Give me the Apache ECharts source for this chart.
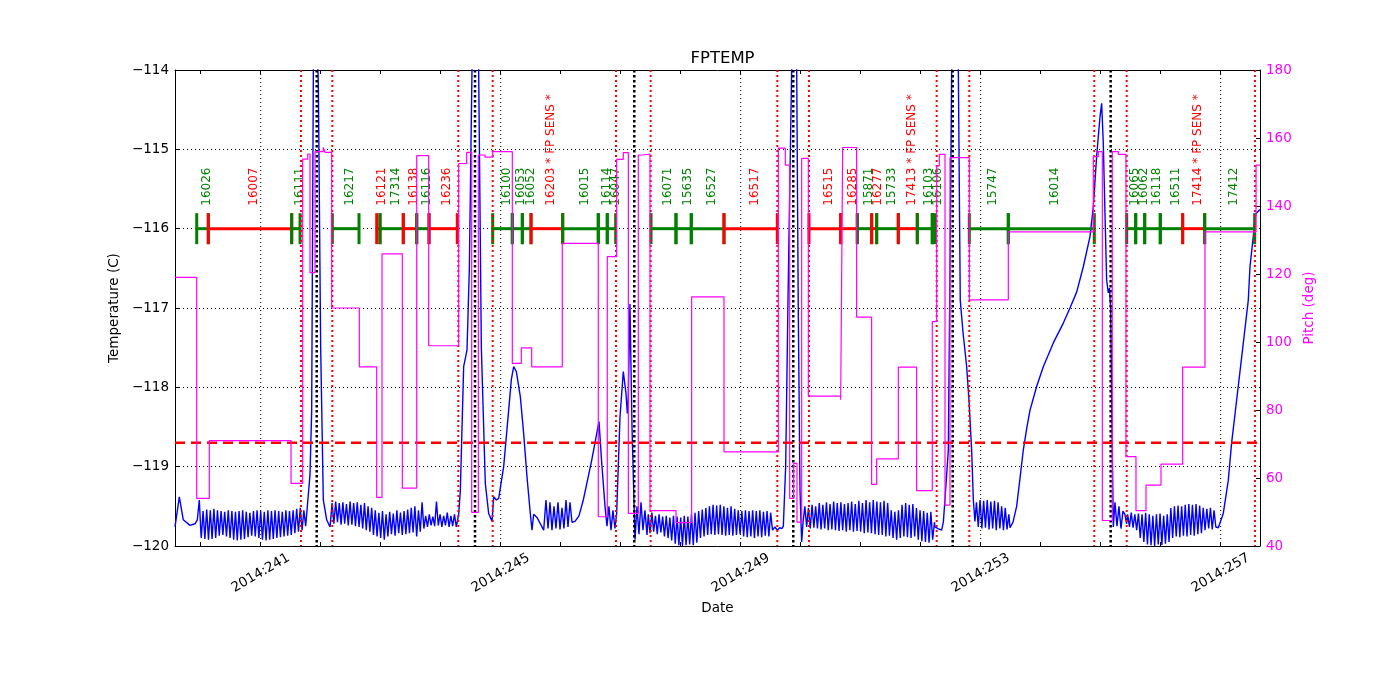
<!DOCTYPE html>
<html><head><meta charset="utf-8">
<script src="https://cdn.jsdelivr.net/npm/echarts@6.0.0/dist/echarts.min.js"></script>
<style>html,body{margin:0;padding:0;background:#fff}#c{width:1400px;height:700px}</style>
</head><body><div id="c"></div>
<script>
// ---- axis ranges (day of year 2014) ----
const X_MIN = 239.572, X_MAX = 257.656;
const TEMP_MIN = -120, TEMP_MAX = -114, PITCH_MIN = 40, PITCH_MAX = 180;
const tickDays = [240,241,242,243,244,245,246,247,248,249,250,251,252,253,254,255,256,257];
const labelDays = [241,245,249,253,257];
const limitTemp = -118.7;
const timelineTemp = -116;

// ---- event lines ----
const redEventDays = [241.672,242.194,244.294,244.867,246.922,247.5,249.611,250.139,252.267,252.811,254.894,255.434,257.572];
const blackEventDays = [241.934,244.572,247.227,249.877,252.534,255.167];

// ---- observation timeline ----
const obsLabels = ['16026','16007','16111','16217','16121','17314','16138','16116','16236','16100','16053','16052','16203 * FP SENS *','16015','16114','16047','16071','15635','16527','16517','16515','16285','15871','16277','15733','17413 * FP SENS *','16103','16106','15747','16014','16065','16062','16118','16511','17414 * FP SENS *','17412'];
const obsStarts = [239.934,240.127,241.517,242.194,242.934,242.989,243.377,243.601,243.806,244.867,245.194,245.361,245.506,246.034,246.627,246.777,247.506,247.922,248.177,248.722,250.139,250.667,250.944,251.184,251.267,251.627,251.944,252.194,252.811,253.461,255.434,255.584,255.734,255.994,256.367,256.734];
const obsEnds = [240.127,241.517,241.656,242.639,242.989,243.377,243.601,243.806,244.277,245.194,245.361,245.506,246.034,246.627,246.777,246.917,247.922,248.177,248.722,249.611,250.667,250.944,251.184,251.267,251.627,251.944,252.194,252.239,253.461,254.894,255.584,255.734,255.994,256.367,256.734,257.567];
const obsColors = ['g','r','g','g','r','g','r','g','r','g','g','g','r','g','g','g','g','g','g','r','r','r','g','r','g','r','g','g','g','g','g','g','g','g','r','g'];

// ---- pitch (deg), held from each time until the next ----
const pitchTimes = [239.572,239.934,240.144,241.506,241.700,241.784,241.822,241.906,242.044,242.072,242.183,242.644,242.934,243.022,243.361,243.601,243.800,244.300,244.433,244.517,244.628,244.739,244.867,245.194,245.344,245.517,246.027,246.627,246.777,246.933,247.044,247.128,247.294,247.367,247.489,247.922,248.183,248.722,249.628,249.744,249.817,249.883,249.939,250.017,250.128,250.667,250.700,250.933,251.183,251.267,251.628,251.933,252.194,252.267,252.311,252.406,252.489,252.811,253.461,254.878,254.961,255.028,255.194,255.294,255.422,255.589,255.756,256.006,256.367,256.739,257.590,257.656];
const pitchValues = [119,54,71,58.4,153.8,155.3,120.4,156,157.2,155.8,110,92.7,54.3,125.9,57,154.8,98.9,152.5,155.8,49.9,155,154.4,156,93.7,98.3,92.7,129,48.6,125.1,153.7,155.7,49.6,155,155.3,50.4,46.9,113.3,67.7,157,152,54,64.3,47,154,84.1,83,157.2,107.3,58.1,65.6,92.6,56.3,106,151.8,155.2,52,154.2,112.4,132.4,154.5,156,47.5,156,155.2,66.3,50.4,57.9,64.1,92.6,132.4,152,152];

// ---- FPTEMP (C) ----
const tempStart = [[239.572,-119.76],[239.644,-119.38],[239.710,-119.67],[239.822,-119.74],[239.905,-119.72],[239.944,-119.67],[239.977,-119.42],[240.005,-119.85]];
const tempBandB = [[240.01,-119.90],[240.04,-119.56],[240.07,-119.91],[240.10,-119.54],[240.13,-119.92],[240.16,-119.55],[240.19,-119.91],[240.22,-119.53],[240.25,-119.90],[240.28,-119.55],[240.31,-119.87],[240.34,-119.56],[240.37,-119.86],[240.40,-119.57],[240.43,-119.88],[240.46,-119.55],[240.49,-119.90],[240.52,-119.56],[240.55,-119.92],[240.58,-119.57],[240.61,-119.93],[240.64,-119.56],[240.67,-119.92],[240.70,-119.55],[240.73,-119.91],[240.76,-119.57],[240.79,-119.89],[240.82,-119.58],[240.85,-119.87],[240.88,-119.56],[240.91,-119.88],[240.94,-119.55],[240.97,-119.90],[241.00,-119.56],[241.03,-119.92],[241.06,-119.57],[241.09,-119.93],[241.12,-119.55],[241.15,-119.92],[241.18,-119.56],[241.21,-119.91],[241.24,-119.55],[241.27,-119.90],[241.30,-119.56],[241.33,-119.89],[241.36,-119.57],[241.39,-119.88],[241.42,-119.55],[241.45,-119.87],[241.48,-119.56],[241.51,-119.86],[241.54,-119.55],[241.57,-119.84],[241.60,-119.53],[241.63,-119.82],[241.66,-119.52],[241.69,-119.80],[241.72,-119.55],[241.75,-119.75]];
const tempPerigee1 = [[241.767,-119.6],[241.822,-119.1],[241.85,-118.3],[241.878,-114.0],[241.906,-112.5],[241.939,-113.5],[241.961,-114.2],[242.0,-117.5],[242.044,-119.42],[242.1,-119.67],[242.156,-119.76]];
const tempBandD = [[242.19,-119.46],[242.22,-119.72],[242.25,-119.44],[242.28,-119.70],[242.31,-119.46],[242.34,-119.73],[242.37,-119.45],[242.40,-119.72],[242.43,-119.47],[242.46,-119.74],[242.49,-119.44],[242.52,-119.73],[242.55,-119.46],[242.58,-119.75],[242.61,-119.45],[242.64,-119.76],[242.67,-119.48],[242.70,-119.78],[242.73,-119.46],[242.76,-119.80],[242.79,-119.50],[242.82,-119.82],[242.85,-119.52],
[242.88,-119.86],[242.91,-119.55],[242.94,-119.88],[242.97,-119.58],[243.00,-119.90],[243.03,-119.56],[243.06,-119.92],[243.09,-119.60],[243.12,-119.88],[243.15,-119.57],[243.18,-119.85],[243.21,-119.59],[243.24,-119.87],[243.27,-119.55],[243.30,-119.84],[243.33,-119.58],[243.36,-119.86],[243.39,-119.56],[243.42,-119.85],[243.45,-119.54],[243.48,-119.84],[243.51,-119.52],[243.54,-119.83],[243.57,-119.50],[243.60,-119.88],[243.63,-119.55],[243.66,-119.82],[243.69,-119.45],[243.72,-119.78],
[243.75,-119.62],[243.78,-119.76],[243.81,-119.60],[243.84,-119.74],[243.87,-119.63],[243.90,-119.75],[243.93,-119.44],[243.96,-119.74],[243.99,-119.60],[244.02,-119.76],[244.05,-119.62],[244.08,-119.74],[244.11,-119.58],[244.14,-119.76],[244.17,-119.62],[244.20,-119.75],[244.23,-119.60],[244.26,-119.76]];
const tempPerigee2 = [[244.30,-119.6],[244.328,-119.3],[244.383,-117.74],[244.439,-117.53],[244.478,-116.5],[244.522,-114.0],[244.544,-112.5],[244.594,-112.5],[244.633,-114.0],[244.678,-117.5],[244.744,-119.21],[244.80,-119.59],[244.856,-119.69],[244.883,-119.38],[244.928,-119.42],[244.967,-119.40],[245.05,-119.0],[245.133,-118.29],[245.178,-117.9],[245.217,-117.74],[245.261,-117.8],[245.328,-118.12],[245.383,-118.58],[245.439,-119.13],[245.494,-119.59],[245.522,-119.8],[245.55,-119.6],[245.605,-119.64],[245.661,-119.72],[245.717,-119.8],
[245.755,-119.42],[245.789,-119.78],[245.822,-119.45],[245.855,-119.8],[245.889,-119.5],[245.922,-119.78],[245.955,-119.45],[245.989,-119.79],[246.022,-119.52],[246.055,-119.78],[246.089,-119.42],[246.122,-119.76],[246.155,-119.45],[246.189,-119.7],[246.239,-119.69],
[246.305,-119.62],[246.377,-119.42],[246.439,-119.2],[246.517,-118.92],[246.572,-118.7],[246.639,-118.43],[246.684,-118.95],[246.739,-119.5],
[246.772,-119.75],[246.805,-119.5],[246.839,-119.8],[246.872,-119.55],[246.905,-119.78],[246.933,-119.59],
[246.989,-118.37],[247.044,-117.8],[247.089,-118.08],[247.111,-118.33],[247.128,-118.1],[247.155,-116.95],[247.189,-118.5],[247.239,-119.92],
[247.272,-119.5],[247.305,-119.85],[247.339,-119.45],[247.372,-119.8],[247.405,-119.55],[247.439,-119.86]];
const tempBandH = [[247.46,-119.60],[247.49,-119.84],[247.52,-119.58],[247.55,-119.82],[247.58,-119.62],[247.61,-119.85],[247.64,-119.60],[247.67,-119.83],[247.70,-119.63],[247.73,-119.88],[247.76,-119.62],[247.79,-119.90],[247.82,-119.64],[247.85,-119.93],[247.88,-119.62],[247.91,-119.97],[247.94,-119.63],[247.97,-119.99],[248.00,-119.64],[248.03,-120.0],[248.06,-119.62],[248.09,-119.99],[248.12,-119.63],[248.15,-119.98],[248.18,-119.60],[248.21,-119.99],[248.24,-119.58],[248.27,-119.96],[248.30,-119.56],[248.33,-119.90],[248.36,-119.54],[248.39,-119.88],[248.42,-119.52],[248.45,-119.86],[248.48,-119.50],[248.51,-119.85],[248.54,-119.48],[248.57,-119.86],[248.60,-119.49],[248.63,-119.85],[248.66,-119.48],[248.69,-119.86],[248.72,-119.50],[248.75,-119.87],[248.78,-119.52],[248.81,-119.86],[248.84,-119.50],[248.87,-119.87],[248.90,-119.53],[248.93,-119.86],[248.96,-119.55],[248.99,-119.85],[249.02,-119.56],[249.05,-119.88],[249.08,-119.55],[249.11,-119.89],[249.14,-119.56],[249.17,-119.88],[249.20,-119.55],[249.23,-119.90],[249.26,-119.56],[249.29,-119.88],[249.32,-119.55],[249.35,-119.89],[249.38,-119.57],[249.41,-119.87],[249.44,-119.56],[249.47,-119.88],[249.50,-119.58],[249.53,-119.80],[249.57,-119.76],[249.61,-119.80],[249.65,-119.77],[249.69,-119.78]];
const tempPerigee3 = [[249.711,-119.75],[249.75,-119.0],[249.789,-116.9],[249.85,-114.0],[249.88,-112.8],[249.91,-113.3],[249.934,-114.0],[249.96,-117.0],[249.989,-119.3],[250.017,-119.95]];
const tempBandJK = [[250.04,-119.70],[250.07,-119.50],[250.10,-119.76],[250.13,-119.52],[250.16,-119.78],[250.19,-119.48],[250.22,-119.77],[250.25,-119.50],[250.28,-119.78],[250.31,-119.46],[250.34,-119.79],[250.37,-119.48],[250.40,-119.78],[250.43,-119.45],[250.46,-119.80],[250.49,-119.47],[250.52,-119.79],[250.55,-119.44],[250.58,-119.80],[250.61,-119.46],[250.64,-119.81],[250.67,-119.45],[250.70,-119.80],[250.73,-119.47],[250.76,-119.82],[250.79,-119.46],[250.82,-119.80],[250.85,-119.44],[250.88,-119.82],[250.91,-119.47],[250.94,-119.81],[250.97,-119.43],[251.00,-119.82],[251.03,-119.46],[251.06,-119.84],[251.09,-119.42],[251.12,-119.83],[251.15,-119.45],[251.18,-119.84],[251.21,-119.42],[251.24,-119.85],[251.27,-119.44],[251.30,-119.86],
[251.33,-119.45],[251.36,-119.86],[251.39,-119.43],[251.42,-119.88],[251.45,-119.46],[251.48,-119.87],[251.51,-119.55],[251.54,-119.90],[251.57,-119.57],[251.60,-119.92],[251.63,-119.55],[251.66,-119.90],[251.69,-119.48],[251.72,-119.88],[251.75,-119.46],[251.78,-119.89],[251.81,-119.48],[251.84,-119.90],[251.87,-119.47],[251.90,-119.88],[251.93,-119.52],[251.96,-119.92],[251.99,-119.55],[252.02,-119.94],[252.05,-119.56],[252.08,-119.95],[252.11,-119.58],[252.14,-119.96],[252.17,-119.57],[252.20,-119.92],[252.23,-119.70]];
const tempPerigee4 = [[252.239,-119.76],[252.289,-119.78],[252.35,-119.8],[252.378,-119.7],[252.405,-119.42],[252.461,-118.79],[252.489,-116.5],[252.517,-114.0],[252.55,-112.8],[252.60,-112.8],[252.628,-114.0],[252.66,-116.9],[252.705,-117.3],[252.767,-117.74],[252.805,-118.16],[252.85,-118.79],[252.878,-119.42],[252.905,-119.69]];
const tempBandL = [[252.93,-119.45],[252.96,-119.76],[252.99,-119.42],[253.02,-119.78],[253.05,-119.43],[253.08,-119.77],[253.11,-119.42],[253.14,-119.79],[253.17,-119.44],[253.20,-119.78],[253.23,-119.43],[253.26,-119.80],[253.29,-119.45],[253.32,-119.78],[253.35,-119.50],[253.38,-119.80],[253.41,-119.52],[253.44,-119.79],[253.47,-119.60]];
const tempWarm = [[253.489,-119.77],[253.539,-119.7],[253.6,-119.5],[253.655,-119.15],[253.711,-118.79],[253.767,-118.52],[253.822,-118.29],[253.933,-117.99],[254.044,-117.74],[254.211,-117.44],[254.378,-117.19],[254.489,-117.0],[254.6,-116.8],[254.711,-116.48],[254.822,-116.1],[254.878,-115.72],[254.933,-115.09],[254.989,-114.59],[255.017,-114.42],[255.044,-114.92],[255.072,-115.8],[255.1,-116.65],[255.128,-116.81],[255.147,-116.75],[255.167,-117.0],[255.189,-118.5],[255.211,-119.76],[255.239,-119.45],[255.272,-119.75],[255.305,-119.5],[255.339,-119.78],[255.372,-119.56],[255.405,-119.6],[255.433,-119.72]];
const tempBandM = [[255.45,-119.60],[255.48,-119.76],[255.51,-119.58],[255.54,-119.77],[255.57,-119.60],[255.60,-119.80],[255.63,-119.59],[255.66,-119.90],[255.69,-119.60],[255.72,-119.95],[255.75,-119.58],[255.78,-119.98],[255.81,-119.60],[255.84,-119.99],[255.87,-119.62],[255.90,-120.0],[255.93,-119.60],[255.96,-119.98],[255.99,-119.59],[256.02,-119.99],[256.05,-119.62],[256.08,-119.97],[256.11,-119.60],[256.14,-119.95],[256.17,-119.52],[256.20,-119.90],[256.23,-119.50],[256.26,-119.88],[256.29,-119.49],[256.32,-119.89],[256.35,-119.50],[256.38,-119.87],[256.41,-119.48],[256.44,-119.88],[256.47,-119.47],[256.50,-119.86],[256.53,-119.48],[256.56,-119.87],[256.59,-119.47],[256.62,-119.85],[256.65,-119.49],[256.68,-119.84],[256.71,-119.52],[256.74,-119.80],[256.77,-119.53],[256.80,-119.78],[256.83,-119.52],[256.86,-119.79],[256.89,-119.55],[256.92,-119.76]];
const tempEnd = [[256.961,-119.77],[257.044,-119.59],[257.128,-119.17],[257.183,-118.7],[257.267,-118.16],[257.378,-117.44],[257.461,-116.9],[257.489,-116.48],[257.544,-116.1],[257.572,-115.85],[257.60,-115.8],[257.656,-115.76]];

const tempData = [].concat(tempStart, tempBandB, tempPerigee1, tempBandD, tempPerigee2, tempBandH, tempPerigee3, tempBandJK, tempPerigee4, tempBandL, tempWarm, tempBandM, tempEnd);
const pitchData = pitchTimes.map((t, i) => [t, pitchValues[i]]);

const RED = '#ff0000', GREEN = '#008000', BLUE = '#0000ff', MAGENTA = '#ff00ff';
const FONT = '"DejaVu Sans", sans-serif';
const minus = v => (v < 0 ? '\u2212' + Math.abs(v) : String(v));

function vlineSeries(days, color, width, dash, z) {
  return {
    type: 'custom', coordinateSystem: 'cartesian2d', xAxisIndex: 0, yAxisIndex: 0,
    z: z, silent: true, animation: false, clip: true,
    data: days.map(d => [d, TEMP_MIN]), encode: { x: 0, y: 1 },
    renderItem(params, api) {
      const p = api.coord([api.value(0), TEMP_MIN]);
      const cs = params.coordSys;
      return { type: 'line', shape: { x1: p[0], y1: cs.y, x2: p[0], y2: cs.y + cs.height },
        style: { stroke: color, lineWidth: width, lineDash: dash } };
    }
  };
}

const axisFont = { fontFamily: FONT, fontSize: 13.5 };

const chart = echarts.init(document.getElementById('c'), null, { renderer: 'canvas' });
chart.setOption({
  backgroundColor: '#fff',
  animation: false,
  title: { text: 'FPTEMP', left: 717.5, top: 45, textAlign: 'center',
    textStyle: { fontFamily: FONT, fontSize: 16.5, fontWeight: 'normal', color: '#000' } },
  grid: { left: 175, right: 140, top: 70, bottom: 154, containLabel: false },
  xAxis: [
    { type: 'value', position: 'bottom', min: X_MIN, max: X_MAX,
      axisLine: { show: true, onZero: false, lineStyle: { color: '#000', width: 1 } },
      axisTick: { show: true, inside: true, length: 4, customValues: tickDays, lineStyle: { color: '#000' } },
      axisLabel: { show: true, customValues: labelDays, formatter: v => '2014:' + v, rotate: 30, margin: 27,
        align: 'center', verticalAlign: 'middle',
        color: '#000', fontFamily: FONT, fontSize: 13.5 },
      splitLine: { show: false },
      name: 'Date', nameLocation: 'middle', nameGap: 49,
      nameTextStyle: Object.assign({ color: '#000' }, axisFont) },
    { type: 'value', position: 'top', min: X_MIN, max: X_MAX,
      axisLine: { show: true, onZero: false, lineStyle: { color: '#000', width: 1 } },
      axisTick: { show: true, inside: true, length: 4, customValues: tickDays, lineStyle: { color: '#000' } },
      axisLabel: { show: false }, splitLine: { show: false } }
  ],
  yAxis: [
    { type: 'value', position: 'left', min: TEMP_MIN, max: TEMP_MAX, interval: 1,
      axisLine: { show: true, onZero: false, lineStyle: { color: '#000', width: 1 } },
      axisTick: { show: true, inside: true, length: 4, lineStyle: { color: '#000' } },
      axisLabel: { formatter: minus, color: '#000', fontFamily: FONT, fontSize: 13.5, margin: 6,
        showMinLabel: true, showMaxLabel: true },
      splitLine: { show: true, lineStyle: { color: '#000', width: 1, type: [1, 3] } },
      name: 'Temperature (C)', nameLocation: 'middle', nameGap: 46, nameRotate: 90,
      nameTextStyle: Object.assign({ color: '#000' }, axisFont) },
    { type: 'value', position: 'right', min: PITCH_MIN, max: PITCH_MAX, interval: 20,
      axisLine: { show: true, onZero: false, lineStyle: { color: '#000', width: 1 } },
      axisTick: { show: true, inside: true, length: 4, lineStyle: { color: '#000' } },
      axisLabel: { color: MAGENTA, fontFamily: FONT, fontSize: 13.5, margin: 6,
        showMinLabel: true, showMaxLabel: true },
      splitLine: { show: false },
      name: 'Pitch (deg)', nameLocation: 'middle', nameGap: 31, nameRotate: 90,
      nameTextStyle: Object.assign({ color: MAGENTA }, axisFont) }
  ],
  series: [
    vlineSeries(labelDays, '#000', 1, [1, 3], 1),
    { type: 'line', name: 'FPTEMP', xAxisIndex: 0, yAxisIndex: 0, data: tempData, z: 2,
      showSymbol: false, symbol: 'none', clip: true, silent: true,
      lineStyle: { color: BLUE, width: 1.4 } },
    { type: 'custom', coordinateSystem: 'cartesian2d', xAxisIndex: 0, yAxisIndex: 0, z: 3, silent: true,
      data: obsStarts.map((s, i) => [s, obsEnds[i], timelineTemp]), encode: { x: [0, 1], y: 2 },
      renderItem(params, api) {
        const i = params.dataIndex;
        const s = api.coord([api.value(0), api.value(2)]);
        const e = api.coord([api.value(1), api.value(2)]);
        const col = obsColors[i] === 'r' ? RED : GREEN;
        const h = 15.5;
        return { type: 'group', children: [
          { type: 'line', shape: { x1: s[0], y1: s[1], x2: e[0], y2: e[1] }, style: { stroke: col, lineWidth: 3 } },
          { type: 'line', shape: { x1: s[0], y1: s[1] - h, x2: s[0], y2: s[1] + h }, style: { stroke: col, lineWidth: 3 } },
          { type: 'line', shape: { x1: e[0], y1: e[1] - h, x2: e[0], y2: e[1] + h }, style: { stroke: col, lineWidth: 3 } },
          { type: 'text', x: (s[0] + e[0]) / 2 + 4, y: s[1] - 23, rotation: Math.PI / 2,
            style: { text: obsLabels[i], fill: col, font: '12px ' + FONT, align: 'left', verticalAlign: 'middle',
              textAlign: 'left', textVerticalAlign: 'middle' } }
        ] };
      } },
    vlineSeries(redEventDays, RED, 2, [2, 3], 4),
    vlineSeries(blackEventDays, '#000', 2.5, [2.5, 2.5], 4),
    { type: 'line', name: 'limit', xAxisIndex: 0, yAxisIndex: 0, z: 5, silent: true,
      data: [[X_MIN, limitTemp], [X_MAX, limitTemp]], showSymbol: false, symbol: 'none',
      lineStyle: { color: RED, width: 2.5, type: [10, 6] } },
    { type: 'line', name: 'Pitch', xAxisIndex: 0, yAxisIndex: 1, data: pitchData, step: 'end', z: 6,
      showSymbol: false, symbol: 'none', clip: true, silent: true,
      lineStyle: { color: MAGENTA, width: 1.2 } }
  ]
});
</script></body></html>
